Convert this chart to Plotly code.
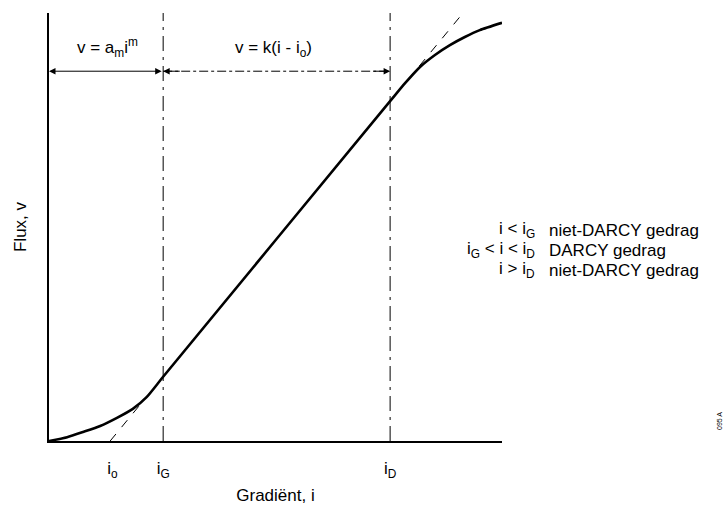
import plotly.graph_objects as go

# ---- data (axis units: gradient i 0..10, flux v 0..10) ----
curve_i = [0.0, 0.40, 0.75, 1.13, 1.50, 1.85, 2.16, 2.52, 7.53, 7.86, 8.19, 8.52, 8.85, 9.18, 9.51, 10.0]
curve_v = [0.0, 0.09, 0.21, 0.35, 0.54, 0.75, 1.03, 1.50, 7.94, 8.36, 8.74, 9.02, 9.25, 9.44, 9.60, 9.77]
tangent_i = [1.35, 9.14]
tangent_v = [0.0, 10.0]
i_o, i_G, i_D = 1.40, 2.52, 7.53
tick_vals = [i_o, i_G, i_D]
tick_text = ["i<sub>o</sub>", "i<sub>G</sub>", "i<sub>D</sub>"]
arrow_v = 8.64
zone_labels = ["v = a<sub>m</sub>i<sup>m</sup>", "v = k(i - i<sub>o</sub>)"]
cond_text = ["i < i<sub>G</sub>", "i<sub>G</sub> < i < i<sub>D</sub>", "i > i<sub>D</sub>"]
desc_text = ["niet-DARCY gedrag", "DARCY gedrag", "niet-DARCY gedrag"]

FONT = "Liberation Sans, Arial, sans-serif"
L, T, R, B = 49, 13, 502, 441
W, H = 724, 505

def px(xp):
    return (xp - L) / (R - L)

def py(yp):
    return (B - yp) / (B - T)

fig = go.Figure()
# vertical boundary lines
for xv in (i_G, i_D):
    fig.add_trace(go.Scatter(x=[xv, xv], y=[0, 10], mode="lines",
                             line=dict(color="black", width=1, dash="longdashdot"),
                             hoverinfo="skip", showlegend=False))
# tangent line
fig.add_trace(go.Scatter(x=tangent_i, y=tangent_v, mode="lines",
                         line=dict(color="black", width=1, dash="dash"),
                         hoverinfo="skip", showlegend=False))
# main curve
fig.add_trace(go.Scatter(x=curve_i, y=curve_v, mode="lines",
                         line=dict(color="black", width=2.6, shape="spline", smoothing=0.6),
                         hoverinfo="skip", showlegend=False))
# dash-dot arrow line
fig.add_trace(go.Scatter(x=[i_G, i_D], y=[arrow_v, arrow_v], mode="lines",
                         line=dict(color="black", width=1, dash="dashdot"),
                         hoverinfo="skip", showlegend=False))

ann = []
# solid double arrow
ann.append(dict(x=0, y=arrow_v, ax=i_G, ay=arrow_v, xref="x", yref="y", axref="x", ayref="y",
                text="", showarrow=True, arrowhead=2, arrowside="end+start", arrowwidth=1,
                arrowsize=1.3, arrowcolor="black", standoff=0, startstandoff=0))
# heads of the dash-dot arrow
for tip, tail in ((i_G, i_G + 0.4), (i_D, i_D - 0.4)):
    ann.append(dict(x=tip, y=arrow_v, ax=tail, ay=arrow_v, xref="x", yref="y", axref="x", ayref="y",
                    text="", showarrow=True, arrowhead=2, arrowwidth=1, arrowsize=1.3,
                    arrowcolor="black", standoff=0))
# zone formulas
ann.append(dict(x=px(107), y=py(62), xref="paper", yref="paper", text=zone_labels[0],
                xanchor="center", yanchor="bottom", showarrow=False,
                font=dict(family=FONT, size=17, color="black")))
ann.append(dict(x=px(273), y=py(62), xref="paper", yref="paper", text=zone_labels[1],
                xanchor="center", yanchor="bottom", showarrow=False,
                font=dict(family=FONT, size=17, color="black")))
# legend-like text block
for k, (c, d) in enumerate(zip(cond_text, desc_text)):
    yy = py(230 + 20 * k)
    ann.append(dict(x=px(537), y=yy, xref="paper", yref="paper", text=c, showarrow=False,
                    xanchor="right", yanchor="middle", font=dict(family=FONT, size=17, color="black")))
    ann.append(dict(x=px(547), y=yy, xref="paper", yref="paper", text=d, showarrow=False,
                    xanchor="left", yanchor="middle", font=dict(family=FONT, size=17, color="black")))
# small figure code
ann.append(dict(x=px(719), y=py(421), xref="paper", yref="paper", text="095 A", showarrow=False,
                xanchor="center", yanchor="middle", textangle=-90,
                font=dict(family=FONT, size=7, color="black")))

fig.update_layout(
    width=W, height=H,
    margin=dict(l=L, r=W - R, t=T, b=H - B),
    paper_bgcolor="white", plot_bgcolor="white",
    annotations=ann,
    xaxis=dict(range=[0, 10], automargin=False, showgrid=False, zeroline=False, showline=True,
               linecolor="black", linewidth=1.5, ticks="", tickvals=tick_vals, ticktext=tick_text,
               ticklabelstandoff=11, tickfont=dict(family=FONT, size=17, color="black"),
               title=dict(text="Gradiënt, i", standoff=12,
                          font=dict(family=FONT, size=17, color="black"))),
    yaxis=dict(range=[0, 10], automargin=False, showgrid=False, zeroline=False, showline=True,
               linecolor="black", linewidth=1.5, ticks="", showticklabels=False,
               title=dict(text="Flux, v", standoff=16,
                          font=dict(family=FONT, size=17, color="black"))),
)

fig.write_html("out.html")
